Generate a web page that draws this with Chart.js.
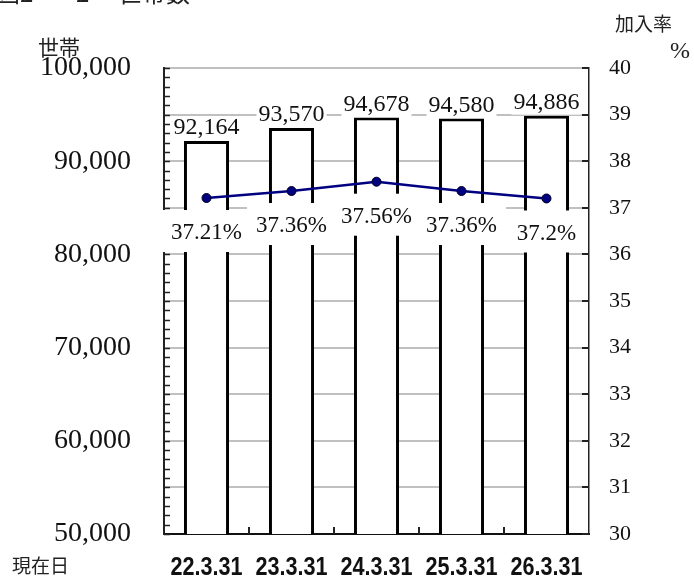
<!DOCTYPE html>
<html>
<head>
<meta charset="utf-8">
<script src="https://cdn.jsdelivr.net/npm/chart.js@4/dist/chart.umd.min.js"></script>
<style>
  body { margin: 0; background: #fff; }
  canvas { display: block; }
</style>
</head>
<body>
<canvas id="householdChart" width="694" height="579"></canvas>
<script>
// data
const dates = ["22.3.31", "23.3.31", "24.3.31", "25.3.31", "26.3.31"]
const households = [92164, 93570, 94678, 94580, 94886]
const joinRate = [37.21, 37.36, 37.56, 37.36, 37.2]

const householdTicks = [50000, 60000, 70000, 80000, 90000, 100000]
const rateTicks = [30, 31, 32, 33, 34, 35, 36, 37, 38, 39, 40]

const serif = "'Liberation Serif', 'Times New Roman', serif"
const cjk = "'Noto Sans CJK JP', sans-serif"

Chart.defaults.font.family = serif
Chart.defaults.color = "#111"

// ticks that point into the plot
const innerTicks = {
  id: "innerTicks",
  afterDatasetsDraw(chart) {
    const ctx = chart.ctx
    const area = chart.chartArea
    const y = chart.scales.y
    const y1 = chart.scales.y1
    const x = chart.scales.x
    ctx.save()
    ctx.strokeStyle = "#222"
    ctx.lineWidth = 1.5
    ctx.beginPath()
    for (let v = y.min; v <= y.max; v += 1000) {
      const py = Math.round(y.getPixelForValue(v)) + 0.5
      ctx.moveTo(area.left, py)
      ctx.lineTo(area.left + 6, py)
    }
    ctx.stroke()
    ctx.lineWidth = 2
    ctx.beginPath()
    rateTicks.forEach((v) => {
      const py = Math.round(y1.getPixelForValue(v))
      ctx.moveTo(area.right - 7, py)
      ctx.lineTo(area.right, py)
    })
    for (let i = 1; i < dates.length; i++) {
      const px = Math.round((x.getPixelForTick(i - 1) + x.getPixelForTick(i)) / 2)
      ctx.moveTo(px, area.bottom)
      ctx.lineTo(px, area.bottom - 7)
    }
    ctx.stroke()

    // date labels, squeezed like a narrow font
    ctx.fillStyle = "#111"
    ctx.textAlign = "center"
    ctx.textBaseline = "middle"
    ctx.font = "bold 26px 'Liberation Sans', sans-serif"
    dates.forEach((d, i) => {
      ctx.fillText(d, x.getPixelForTick(i), area.bottom + 34, 72)
    })
    ctx.restore()
  },
}

const valueLabels = {
  id: "valueLabels",
  afterDatasetsDraw(chart) {
    const ctx = chart.ctx
    ctx.save()
    ctx.textAlign = "center"
    ctx.textBaseline = "middle"

    // household counts above the bars
    ctx.font = "24px " + serif
    chart.getDatasetMeta(0).data.forEach((bar, i) => {
      const text = households[i].toLocaleString("en-US")
      const w = ctx.measureText(text).width + 4
      const h = 24
      const cy = bar.y - 13
      ctx.fillStyle = "#fff"
      ctx.fillRect(bar.x - w / 2, cy - h / 2, w, h)
      ctx.fillStyle = "#111"
      ctx.fillText(text, bar.x, cy)
    })

    // join rate boxes under the points
    ctx.font = "23px " + serif
    chart.getDatasetMeta(1).data.forEach((pt, i) => {
      const text = joinRate[i] + "%"
      const w = ctx.measureText(text).width + 18
      const h = 42
      const cy = pt.y + 33
      ctx.fillStyle = "#fff"
      ctx.fillRect(pt.x - w / 2, cy - h / 2, w, h)
      ctx.fillStyle = "#111"
      ctx.fillText(text, pt.x, cy + 2)
    })
    ctx.restore()
  },
}

const captions = {
  id: "captions",
  afterDraw(chart) {
    const ctx = chart.ctx
    ctx.save()
    ctx.fillStyle = "#222"
    ctx.textBaseline = "alphabetic"
    ctx.textAlign = "left"
    // figure title, mostly cut off at the top edge
    ctx.font = "24px " + cjk
    ctx.fillText("図2", -4, 2)
    ctx.fillText("－", 40, 2)
    ctx.fillText("2", 76, 2)
    ctx.fillText("世帯数", 118, 2)

    ctx.textBaseline = "middle"
    ctx.font = "21px " + cjk
    ctx.fillText("世帯", 38, 47)
    ctx.font = "19px " + cjk
    ctx.fillText("加入率", 615, 24)
    ctx.fillText("現在日", 12, 566)
    ctx.font = "24px " + serif
    ctx.fillText("%", 670, 52)
    ctx.restore()
  },
}

const ctx = document.getElementById("householdChart").getContext("2d")
const householdChart = new Chart(ctx, {
  data: {
    labels: dates,
    datasets: [
      {
        type: "bar",
        label: "世帯数",
        data: households,
        yAxisID: "y",
        backgroundColor: "#fff",
        borderColor: "#000",
        borderWidth: 3,
        borderSkipped: false,
        barPercentage: 0.53,
        categoryPercentage: 1.0,
        order: 1,
      },
      {
        type: "line",
        label: "加入率",
        data: joinRate,
        yAxisID: "y1",
        borderColor: "#000080",
        borderWidth: 2.5,
        pointRadius: 4.5,
        pointBackgroundColor: "#000080",
        pointBorderColor: "#000020",
        pointBorderWidth: 1,
        order: 0,
      },
    ],
  },
  options: {
    responsive: false,
    animation: false,
    events: [],
    layout: {
      padding: { left: 0, right: 0, top: 68, bottom: 0 },
    },
    plugins: {
      legend: { display: false },
      tooltip: { enabled: false },
    },
    scales: {
      x: {
        grid: { display: false, drawTicks: false },
        border: { display: true, color: "#111", width: 2 },
        ticks: { display: false },
        afterFit(scale) {
          scale.height = 45
        },
      },
      y: {
        position: "left",
        min: 50000,
        max: 100000,
        afterBuildTicks(scale) {
          scale.ticks = householdTicks.map((v) => ({ value: v }))
        },
        grid: { display: false, drawTicks: false },
        border: { display: true, color: "#222", width: 2 },
        ticks: {
          padding: 33,
          font: { size: 28 },
          callback: (v) => v.toLocaleString("en-US"),
        },
        afterFit(scale) {
          scale.width = 164
          scale.paddingTop = 0
          scale.paddingBottom = 0
        },
      },
      y1: {
        position: "right",
        min: 30,
        max: 40,
        afterBuildTicks(scale) {
          scale.ticks = rateTicks.map((v) => ({ value: v }))
        },
        grid: { color: "#c0c0c0", lineWidth: 2, drawTicks: false },
        border: { display: true, color: "#222", width: 1.5 },
        ticks: {
          padding: 20,
          font: { size: 22 },
        },
        afterFit(scale) {
          scale.width = 105
          scale.paddingTop = 0
          scale.paddingBottom = 0
        },
      },
    },
  },
  plugins: [innerTicks, valueLabels, captions],
})
</script>
</body>
</html>
